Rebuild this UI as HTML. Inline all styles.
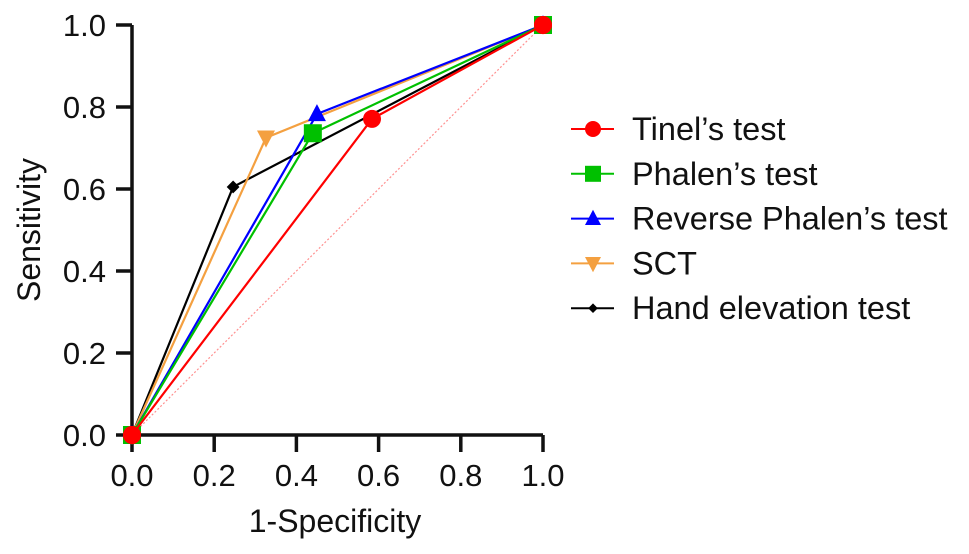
<!DOCTYPE html>
<html><head><meta charset="utf-8"><style>
body{margin:0;background:#fff;}
svg{display:block;font-family:"Liberation Sans",sans-serif;}
</style></head><body>
<svg id="chart" width="969" height="554">
<g id="axes"></g>
<g id="plot"></g>
<g id="legend"></g>
</svg>
<script>
const seriesNames=["Tinel’s test","Phalen’s test","Reverse Phalen’s test","SCT","Hand elevation test"];
const seriesColors=["#ff0000","#00c000","#0000ff","#f4a040","#000000"];
const seriesMarkers=["circle","square","triangle","tridown","diamond"];
const fprValues=[[0,0.584,1],[0,0.44,1],[0,0.45,1],[0,0.326,1],[0,0.246,1]];
const tprValues=[[0,0.771,1],[0,0.736,1],[0,0.783,1],[0,0.725,1],[0,0.605,1]];
const tickValues=[0,0.2,0.4,0.6,0.8,1.0];
const tickLabels=["0.0","0.2","0.4","0.6","0.8","1.0"];
const NS="http://www.w3.org/2000/svg";
const X0=132,X1=543,Y0=435,Y1=25;
const xs=v=>X0+v*(X1-X0), ys=v=>Y0-v*(Y0-Y1);
function mk(tag,attrs,parent,text){const e=document.createElementNS(NS,tag);for(const k in attrs)e.setAttribute(k,attrs[k]);if(text!==undefined)e.textContent=text;parent.appendChild(e);return e;}
const axes=document.getElementById('axes'),plot=document.getElementById('plot'),legend=document.getElementById('legend');
let d=mk('line',{x1:xs(0),y1:ys(0),x2:xs(1),y2:ys(1),stroke:"#ff9090","stroke-width":1.2,"stroke-dasharray":"2,2"},plot);


let ax=mk('path',{d:`M${X0},${Y1} V${Y0} H${X1}`,fill:"none",stroke:"#111","stroke-width":3.5},axes);


tickValues.forEach((v,i)=>{
 let t=mk('line',{x1:X0-16,x2:X0,y1:ys(v),y2:ys(v),stroke:"#111","stroke-width":3.5},axes);
 
 
 let l=mk('text',{x:X0-26,y:ys(v)+11,"text-anchor":"end","font-size":31,fill:"#111"},axes,tickLabels[i]);
 
 
 let t2=mk('line',{x1:xs(v),x2:xs(v),y1:Y0,y2:Y0+17,stroke:"#111","stroke-width":3.5},axes);
 
 
 let l2=mk('text',{x:xs(v),y:Y0+51,"text-anchor":"middle","font-size":31,fill:"#111"},axes,tickLabels[i]);
 
 
});
let xt=mk('text',{x:335,y:532,"text-anchor":"middle","font-size":32,fill:"#111"},axes,"1-Specificity");


let yt=mk('text',{x:0,y:0,"text-anchor":"middle","font-size":32,fill:"#111",transform:`translate(40,230) rotate(-90)`},axes,"Sensitivity");


function marker(type,cx,cy,color,parent,s){
 let e;
 if(type==="circle")e=mk('circle',{cx,cy,r:s,fill:color},parent);
 else if(type==="square")e=mk('rect',{x:cx-s,y:cy-s,width:2*s,height:2*s,fill:color},parent);
 else if(type==="triangle")e=mk('polygon',{points:`${cx},${cy-s*1.1} ${cx-s},${cy+s*0.8} ${cx+s},${cy+s*0.8}`,fill:color},parent);
 else if(type==="tridown")e=mk('polygon',{points:`${cx},${cy+s*1.1} ${cx-s},${cy-s*0.8} ${cx+s},${cy-s*0.8}`,fill:color},parent);
 else e=mk('polygon',{points:`${cx},${cy-s*0.8} ${cx+s*0.8},${cy} ${cx},${cy+s*0.8} ${cx-s*0.8},${cy}`,fill:color},parent);
 return e;
}
for(let i=seriesNames.length-1;i>=0;i--){
 const g=mk('g',{},plot);
 
 
 const pts=fprValues[i].map((x,j)=>xs(x)+","+ys(tprValues[i][j])).join(" ");
 let pl=mk('polyline',{points:pts,fill:"none",stroke:seriesColors[i],"stroke-width":2.2},g);
 
 
 fprValues[i].forEach((x,j)=>{
  let m=marker(seriesMarkers[i],xs(x),ys(tprValues[i][j]),seriesColors[i],g,i===4?8:9);
  
  
 });
}
[[0,0],[1,1]].forEach(p=>{
 let m=marker("circle",xs(p[0]),ys(p[1]),"#ff0000",plot,9);
 
 
});
seriesNames.forEach((n,i)=>{
 const y=129+i*44.8;
 const g=mk('g',{},legend);
 
 
 mk('line',{x1:571,x2:614,y1:y,y2:y,stroke:seriesColors[i],"stroke-width":2},g);
 marker(seriesMarkers[i],593,y,seriesColors[i],g,i===4?6:8);
 mk('text',{x:632,y:y+11,"font-size":32.5,fill:"#111"},g,n);
});
</script>
</body></html>
